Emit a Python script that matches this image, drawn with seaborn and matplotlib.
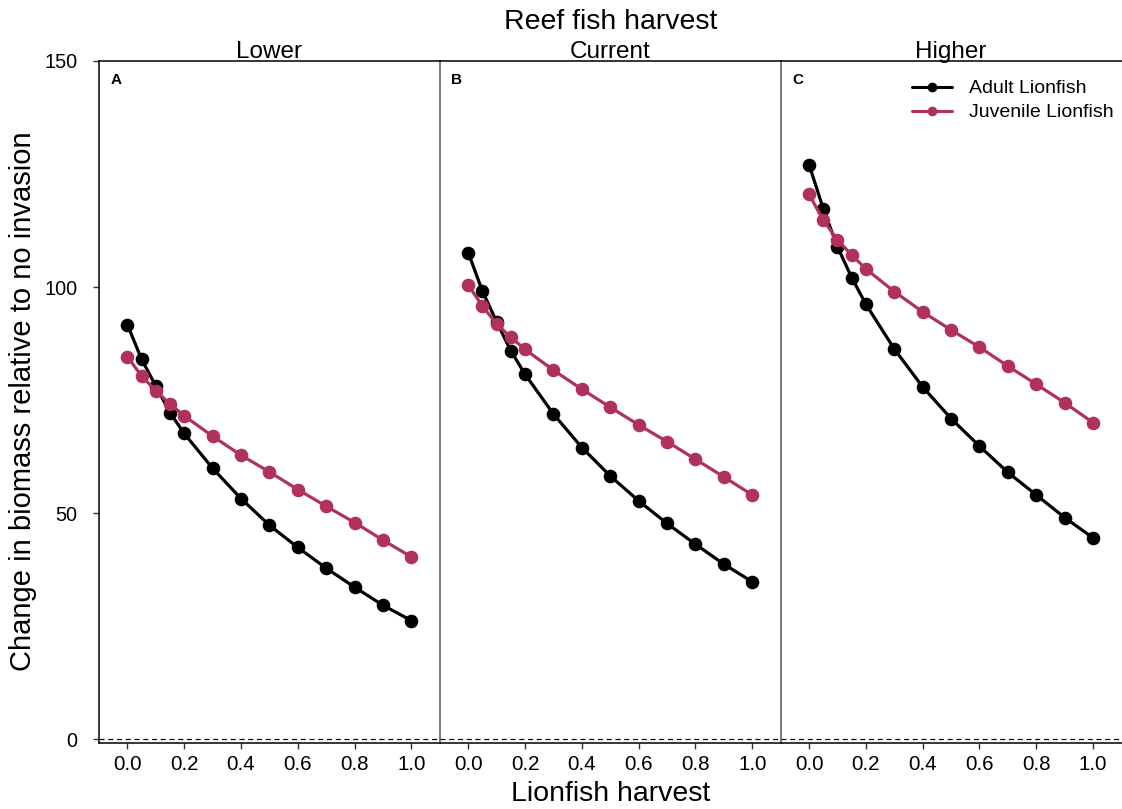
import matplotlib
matplotlib.use("Agg")
import matplotlib.pyplot as plt
from matplotlib.lines import Line2D
import seaborn as sns
import pandas as pd

# ---- data ----
harvest = [0.0, 0.05, 0.1, 0.15, 0.2, 0.3, 0.4, 0.5, 0.6, 0.7, 0.8, 0.9, 1.0]

adult_lower = [91.7, 84.0, 78.1, 72.2, 67.6, 59.9, 53.2, 47.3, 42.4, 37.8, 33.6, 29.6, 26.2]
juv_lower = [84.6, 80.3, 77.1, 74.1, 71.5, 67.0, 62.8, 59.1, 55.2, 51.5, 47.9, 44.0, 40.3]
adult_current = [107.6, 99.1, 92.3, 85.9, 80.7, 71.9, 64.5, 58.2, 52.7, 47.7, 43.1, 38.7, 34.8]
juv_current = [100.4, 95.8, 91.8, 88.9, 86.2, 81.6, 77.4, 73.4, 69.5, 65.8, 61.9, 58.0, 54.0]
adult_higher = [127.1, 117.3, 108.9, 102.1, 96.2, 86.3, 77.9, 70.9, 64.8, 59.0, 54.0, 49.0, 44.5]
juv_higher = [120.5, 114.8, 110.4, 107.1, 104.0, 99.0, 94.5, 90.5, 86.7, 82.5, 78.5, 74.4, 70.0]

scenarios = ["Lower", "Current", "Higher"]
panel_letters = ["A", "B", "C"]
stages = ["Adult Lionfish", "Juvenile Lionfish"]
x_ticks = [0.0, 0.2, 0.4, 0.6, 0.8, 1.0]
x_tick_labels = ["0.0", "0.2", "0.4", "0.6", "0.8", "1.0"]
y_ticks = [0, 50, 100, 150]
y_tick_labels = ["0", "50", "100", "150"]

series = {
    ("Lower", "Adult Lionfish"): adult_lower,
    ("Lower", "Juvenile Lionfish"): juv_lower,
    ("Current", "Adult Lionfish"): adult_current,
    ("Current", "Juvenile Lionfish"): juv_current,
    ("Higher", "Adult Lionfish"): adult_higher,
    ("Higher", "Juvenile Lionfish"): juv_higher,
}
rows = []
for (scen, stage), vals in series.items():
    for h, v in zip(harvest, vals):
        rows.append({"Scenario": scen, "Stage": stage, "Harvest": h, "Biomass": v})
df = pd.DataFrame(rows)

palette = {"Adult Lionfish": "#000000", "Juvenile Lionfish": "#B03060"}

# ---- style ----
sns.set_style("white")
plt.rcParams["font.family"] = ["Liberation Sans", "DejaVu Sans"]
plt.rcParams["text.color"] = "black"
plt.rcParams["axes.labelcolor"] = "black"
plt.rcParams["xtick.color"] = "black"
plt.rcParams["ytick.color"] = "black"

W, H = 1122, 809
fig = plt.figure(figsize=(W / 100, H / 100), dpi=100)

left_px, right_px = 99, 1121.5
bottom_px, top_px = 742.7, 61
pw = (right_px - left_px) / 3
ph = bottom_px - top_px

axes = []
for i, scen in enumerate(scenarios):
    ax = fig.add_axes([(left_px + i * pw) / W, 1 - bottom_px / H, pw / W, ph / H])
    axes.append(ax)
    sub = df[df["Scenario"] == scen]
    ax.axhline(0, color="black", lw=0.9, ls=(0, (4, 3)), zorder=1)
    sns.lineplot(data=sub, x="Harvest", y="Biomass", hue="Stage", hue_order=stages,
                 palette=palette, marker="o", markersize=9.8, markeredgewidth=0,
                 linewidth=2.3, legend=False, ax=ax, zorder=3)
    ax.set_xlim(-0.1, 1.1)
    ax.set_ylim(-0.8, 150)
    ax.set_xticks(x_ticks)
    ax.set_xticklabels(x_tick_labels)
    ax.set_xlabel("")
    ax.set_ylabel("")
    ax.tick_params(axis="x", direction="out", length=4, width=1, color="#333333",
                   labelcolor="black", labelsize=14.8, pad=5, bottom=True)
    if i == 0:
        ax.set_yticks(y_ticks)
        ax.set_yticklabels(y_tick_labels)
        ax.tick_params(axis="y", direction="out", length=4.5, width=1, color="#333333",
                       labelcolor="black", labelsize=14.3, pad=11, left=True)
    else:
        ax.set_yticks([])
    for s in ["top", "bottom"]:
        ax.spines[s].set_visible(True)
        ax.spines[s].set_color("black")
        ax.spines[s].set_linewidth(1.1)
    ax.spines["left"].set_visible(True)
    ax.spines["left"].set_color("black" if i == 0 else "#555555")
    ax.spines["left"].set_linewidth(1.1)
    ax.spines["right"].set_visible(False)
    ax.text(0.5, 1.004, scen, transform=ax.transAxes, ha="center", va="baseline",
            fontsize=17.5, color="black")
    ax.text(0.033, 0.972, panel_letters[i], transform=ax.transAxes, ha="left",
            va="center", fontsize=11, fontweight="bold", color="black")

handles = [Line2D([0], [0], color=palette[s], lw=2.2, marker="o", markersize=7,
                  markeredgewidth=0) for s in stages]
leg = axes[2].legend(handles, stages, loc="upper right",
                     bbox_to_anchor=(1.0, 1.0 - 11 / ph),
                     frameon=False, fontsize=14, handlelength=2.05, handletextpad=0.9,
                     labelspacing=0.33, borderaxespad=0.0, borderpad=0.4)
for t in leg.get_texts():
    t.set_color("black")

cx = ((left_px + right_px) / 2) / W
fig.text(cx, 1 - 29 / H, "Reef fish harvest", ha="center", va="baseline",
         fontsize=20.5, color="black")
fig.text(cx, 1 - 801 / H, "Lionfish harvest", ha="center", va="baseline",
         fontsize=20.5, color="black")
fig.text(31 / W, 1 - 401.5 / H, "Change in biomass relative to no invasion",
         rotation=90, rotation_mode="anchor", ha="center", va="baseline",
         fontsize=21, color="black")

fig.savefig("out.png", dpi=100)
